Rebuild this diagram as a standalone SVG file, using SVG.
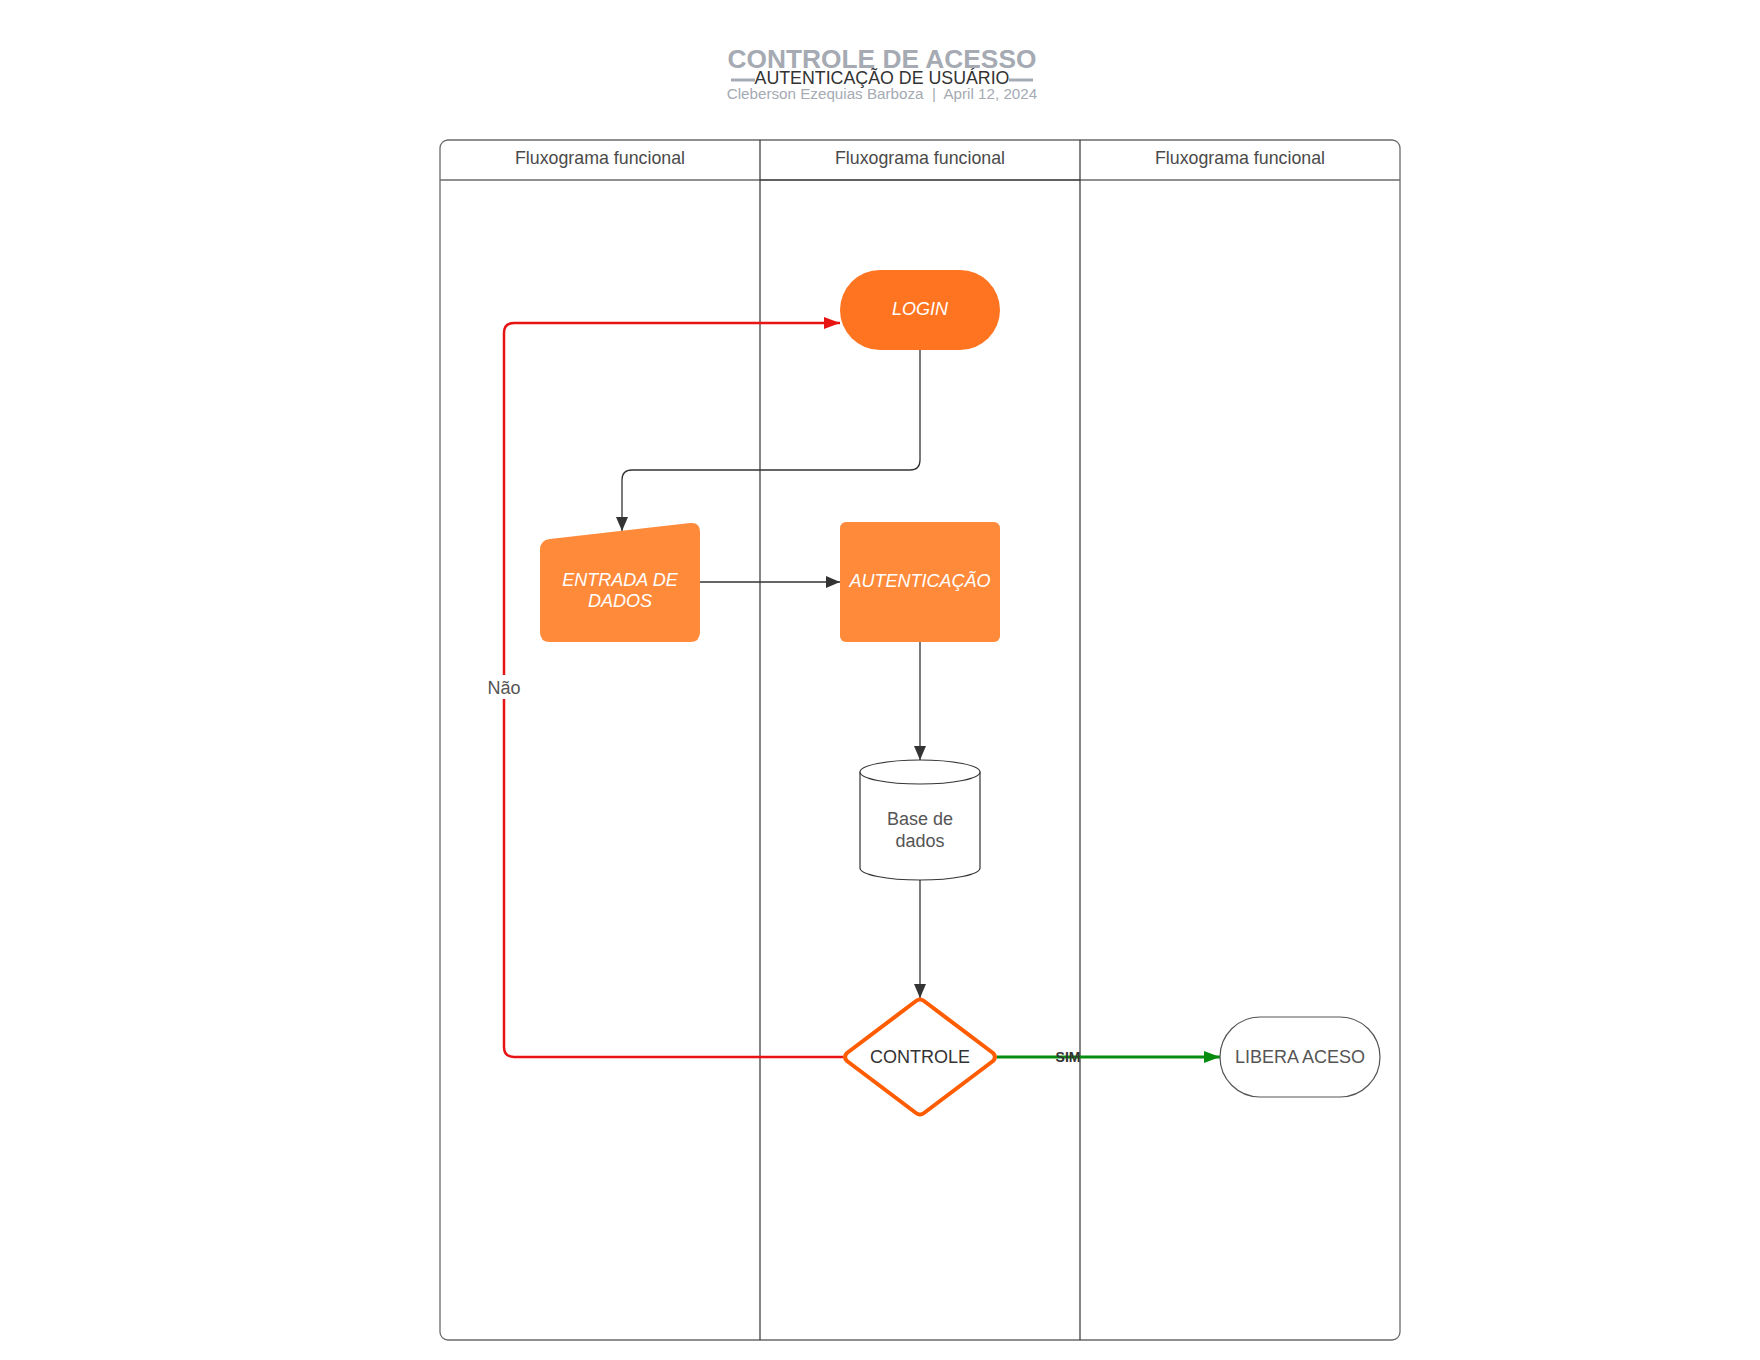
<svg xmlns="http://www.w3.org/2000/svg" width="1760" height="1360" viewBox="0 0 1760 1360">
<defs>
<style>
text{font-family:"Liberation Sans",Arial,sans-serif;}
.lane{fill:none;stroke:#6b6b6b;stroke-width:1.3;}
.mid{fill:none;stroke:#333;stroke-width:1.2;}
.hdr{font-size:17.8px;fill:#4a4a4a;text-anchor:middle;}
.wt{font-size:18px;fill:#fff;font-style:italic;text-anchor:middle;}
.gt{font-size:18px;fill:#555;text-anchor:middle;}
.conn{fill:none;stroke:#333;stroke-width:1.3;}
</style>
<marker id="ab" viewBox="0 0 14 12" refX="14" refY="6" markerWidth="14" markerHeight="12" markerUnits="userSpaceOnUse" orient="auto"><path d="M0,0 L14,6 L0,12 Z" fill="#333"/></marker>
<marker id="ar" viewBox="0 0 16 12" refX="16" refY="6" markerWidth="16" markerHeight="12" markerUnits="userSpaceOnUse" orient="auto"><path d="M0,0 L16,6 L0,12 Z" fill="#e81313"/></marker>
<marker id="ag" viewBox="0 0 16 12" refX="16" refY="6" markerWidth="16" markerHeight="12" markerUnits="userSpaceOnUse" orient="auto"><path d="M0,0 L16,6 L0,12 Z" fill="#078c10"/></marker>
</defs>
<rect width="1760" height="1360" fill="#fff"/>
<g id="title">
<text x="882" y="68" text-anchor="middle" font-size="26.3" font-weight="bold" fill="#a5aab3">CONTROLE DE ACESSO</text>
<line x1="731" y1="80" x2="755" y2="80" stroke="#a5aab3" stroke-width="3"/>
<line x1="1009" y1="80" x2="1033" y2="80" stroke="#a5aab3" stroke-width="3"/>
<text x="882" y="83.5" text-anchor="middle" font-size="17.8" fill="#333">AUTENTICAÇÃO DE USUÁRIO</text>
<text x="882" y="99" text-anchor="middle" font-size="15.2" fill="#a5aab3" xml:space="preserve">Cleberson Ezequias Barboza  |  April 12, 2024</text>
</g>
<g id="swimlanes">
<rect class="lane" x="440" y="140" width="960" height="1200" rx="8"/>
<line class="lane" x1="440" y1="180" x2="1400" y2="180"/>
<line class="mid" x1="760" y1="140" x2="760" y2="1340"/>
<line class="mid" x1="1080" y1="140" x2="1080" y2="1340"/>
<line class="mid" x1="760" y1="180" x2="1080" y2="180"/>
<text class="hdr" x="600" y="164">Fluxograma funcional</text>
<text class="hdr" x="920" y="164">Fluxograma funcional</text>
<text class="hdr" x="1240" y="164">Fluxograma funcional</text>
</g>
<g id="connectors">
<path class="conn" d="M920,350 V460 Q920,470 910,470 H632 Q622,470 622,480 V531" marker-end="url(#ab)"/>
<path class="conn" d="M700,582 H840" marker-end="url(#ab)"/>
<path class="conn" d="M920,642 V760" marker-end="url(#ab)"/>
<path class="conn" d="M920,880 V998" marker-end="url(#ab)"/>
<path d="M843,1057 H514 Q504,1057 504,1047 V333 Q504,323 514,323 H840" fill="none" stroke="#e81313" stroke-width="2.5" marker-end="url(#ar)"/>
<path d="M997,1057 H1220" fill="none" stroke="#078c10" stroke-width="3" marker-end="url(#ag)"/>
<rect x="482" y="675" width="44" height="24" fill="#fff"/>
<text x="504" y="694" class="gt">Não</text>
<text x="1068" y="1062" text-anchor="middle" font-size="14" font-weight="bold" fill="#333">SIM</text>
</g>
<g id="login">
<rect x="840" y="270" width="160" height="80" rx="40" fill="#ff7420"/>
<text class="wt" x="920" y="315">LOGIN</text>
</g>
<g id="entrada">
<path d="M540,550 Q540,540 550,539 L690,523 Q700,522 700,532 V632 Q700,642 690,642 H550 Q540,642 540,632 Z" fill="#ff8a3a"/>
<text class="wt" x="620" y="586">ENTRADA DE</text>
<text class="wt" x="620" y="607">DADOS</text>
</g>
<g id="autenticacao">
<rect x="840" y="522" width="160" height="120" rx="6" fill="#ff8a3a"/>
<text class="wt" x="920" y="587">AUTENTICAÇÃO</text>
</g>
<g id="base">
<path d="M860,772 V868 A60,12 0 0 0 980,868 V772" fill="#fff" stroke="#333" stroke-width="1.2"/>
<ellipse cx="920" cy="772" rx="60" ry="12" fill="#fff" stroke="#333" stroke-width="1.2"/>
<text class="gt" x="920" y="825">Base de</text>
<text class="gt" x="920" y="847">dados</text>
</g>
<g id="controle">
<path d="M916,1001 Q920,998 924,1001 L993,1053 Q997,1057 993,1061 L924,1113 Q920,1116 916,1113 L847,1061 Q843,1057 847,1053 Z" fill="#fff" stroke="#ff5c00" stroke-width="4" stroke-linejoin="round"/>
<text x="920" y="1063" text-anchor="middle" font-size="18" fill="#333">CONTROLE</text>
</g>
<g id="libera">
<rect x="1220" y="1017" width="160" height="80" rx="40" fill="#fff" stroke="#555" stroke-width="1.2"/>
<text class="gt" x="1300" y="1063">LIBERA ACESO</text>
</g>
</svg>
